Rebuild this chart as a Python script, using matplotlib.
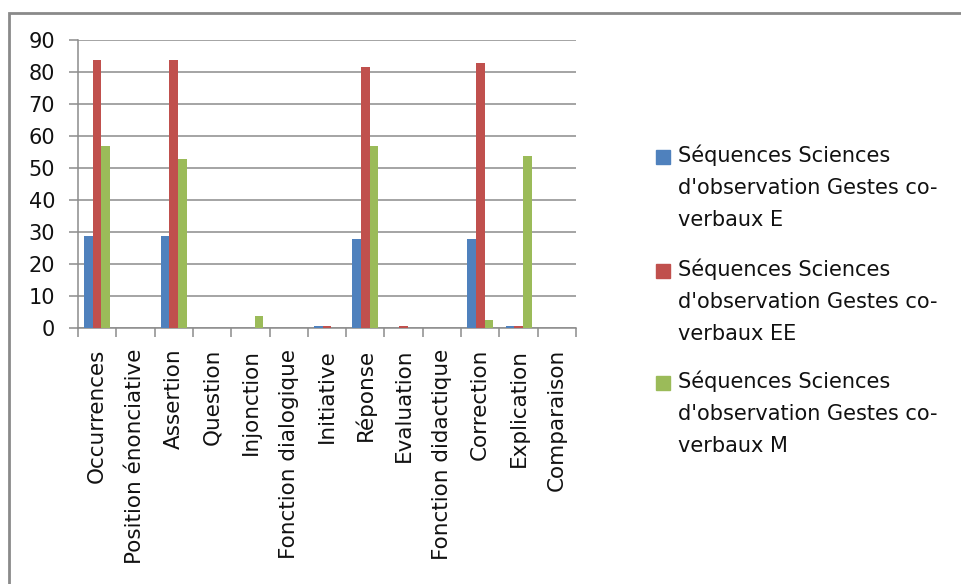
import matplotlib
matplotlib.use("Agg")
import matplotlib.pyplot as plt
from matplotlib.patches import Rectangle
import numpy as np

categories = ["Occurrences", "Position énonciative", "Assertion", "Question",
              "Injonction", "Fonction dialogique", "Initiative", "Réponse",
              "Evaluation", "Fonction didactique", "Correction", "Explication",
              "Comparaison"]
series_names = ["Séquences Sciences\nd'observation Gestes co-\nverbaux E",
                "Séquences Sciences\nd'observation Gestes co-\nverbaux EE",
                "Séquences Sciences\nd'observation Gestes co-\nverbaux M"]
values_E = [28.6, 0, 28.6, 0, 0, 0, 0.5, 27.8, 0, 0, 27.8, 0.5, 0]
values_EE = [83.7, 0, 83.7, 0, 0, 0, 0.5, 81.6, 0.5, 0, 82.9, 0.5, 0]
values_M = [56.8, 0, 52.7, 0, 3.7, 0, 0, 56.8, 0, 0, 2.5, 53.6, 0]
colors = ["#4F81BD", "#C0504D", "#9BBB59"]
yticks = [0, 10, 20, 30, 40, 50, 60, 70, 80, 90]

plt.rcParams['font.family'] = ['DejaVu Sans']

W, H = 962, 584
fig = plt.figure(figsize=(W / 100, H / 100), dpi=100)
ax = fig.add_axes([78 / W, 1 - 328 / H, (576 - 78) / W, (328 - 40) / H])

x = np.arange(len(categories))
bw = 0.226
gridc = "#8c8c8c"
for i, (vals, c) in enumerate(zip([values_E, values_EE, values_M], colors)):
    ax.bar(x + (i - 1) * bw, vals, width=bw, color=c, edgecolor="none", zorder=3)

fs = 15
ax.set_xlim(-0.5, len(categories) - 0.5)
ax.set_ylim(0, 90)
ax.set_yticks(yticks)
ax.set_yticklabels([str(v) for v in yticks], fontsize=fs, color="#111111")
ax.yaxis.grid(True, color=gridc, linewidth=1.1, zorder=0)
ax.set_axisbelow(True)
ax.set_xticks(x)
ax.set_xticklabels(categories, rotation=90, fontsize=15.5, va="top", color="#111111")
ax.set_xticks(np.arange(len(categories) + 1) - 0.5, minor=True)
ax.tick_params(axis="x", which="major", length=0, pad=15)
ax.tick_params(axis="x", which="minor", length=6.5, color=gridc, width=1.1)
ax.tick_params(axis="y", length=6.5, color=gridc, width=1.1, pad=10)
for s in ["top", "right"]:
    ax.spines[s].set_visible(False)
for s in ["left", "bottom"]:
    ax.spines[s].set_color(gridc)
    ax.spines[s].set_linewidth(1.1)

# legend drawn manually
entry_y = [157, 271, 383]
for name, c, yy in zip(series_names, colors, entry_y):
    fig.patches.append(Rectangle((656 / W, 1 - (yy + 7) / H), 14 / W, 14 / H,
                                 transform=fig.transFigure, color=c))
    fig.text(678 / W, 1 - (yy - 13) / H, name, fontsize=fs, va="top",
             ha="left", linespacing=1.76, color="#111111")

# outer chart border
fig.patches.append(Rectangle((9 / W, -0.1), 1.2, 1.1 - 13 / H,
                             transform=fig.transFigure, fill=False,
                             edgecolor="#8a8a8a", linewidth=2))

fig.savefig("out.png", dpi=100)
